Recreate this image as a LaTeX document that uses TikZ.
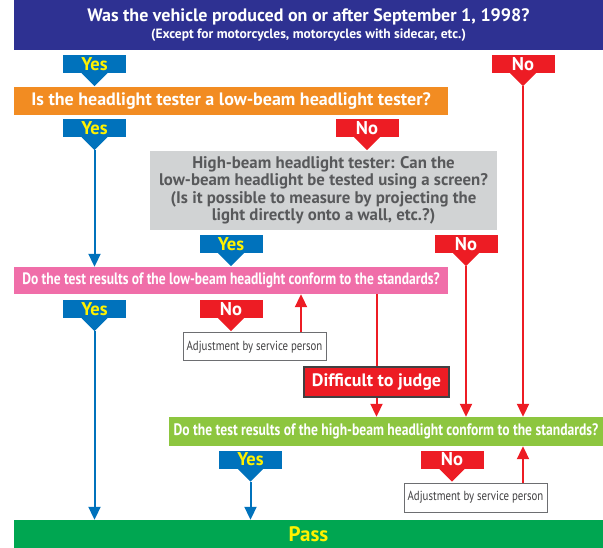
\documentclass[tikz,border=0pt]{standalone}
\usepackage{fontspec}
\setmainfont{PT Sans}
\newfontfamily\condfont[FakeStretch=0.82]{PT Sans}
\usetikzlibrary{arrows.meta}
\definecolor{navy}{HTML}{2E3192}
\definecolor{cblue}{HTML}{0072BC}
\definecolor{cred}{HTML}{ED1C24}
\definecolor{corange}{HTML}{F28C22}
\definecolor{cpink}{HTML}{F06EA9}
\definecolor{cgray}{HTML}{D1D3D4}
\definecolor{clgreen}{HTML}{8DC63F}
\definecolor{cgreen}{HTML}{00A651}
\definecolor{ctext}{HTML}{58595B}
\definecolor{cborder}{HTML}{6D6E71}
\definecolor{cdark}{HTML}{414042}
\definecolor{cyellow}{HTML}{FFF200}
\tikzset{
  box/.style={rectangle, inner sep=0pt, anchor=center, align=center},
  yestag/.style={rectangle, inner sep=0pt, fill=cblue, minimum width=63pt, minimum height=18pt,
    text=cyellow, font=\bfseries\fontsize{18.5}{19}\selectfont},
  notag/.style={rectangle, inner sep=0pt, fill=cred, minimum width=63pt, minimum height=18pt,
    text=white, font=\bfseries\fontsize{18.5}{19}\selectfont},
  yestagfill/.style={fill=cblue},
  notagfill/.style={fill=cred},
  arr/.style={-{Triangle[length=13pt,width=12pt]}},
  blueline/.style={draw=cblue, line width=2pt},
  redline/.style={draw=cred, line width=2pt},
  adjbox/.style={box, fill=white, draw=cborder, line width=1pt, text=cdark,
    font=\condfont\fontsize{13.2}{15}\selectfont},
}
\newcommand\tagbox[5]{%
  \node[#5tag] (#1) at (#2,#3) {#4};
  \fill[#5tagfill] ([xshift=-13pt]#1.south) -- ([xshift=13pt]#1.south) -- ([yshift=-13pt]#1.south) -- cycle;
  \coordinate (#1t) at ([yshift=-13pt]#1.south);
}
\begin{document}
\begin{tikzpicture}[x=1pt,y=-1pt]
\useasboundingbox (0,0) rectangle (603,548);
% boxes
\node[box, fill=navy, minimum width=589pt, minimum height=50pt, text=white] (title) at (308.5,25)
  {{\bfseries\fontsize{18}{20}\selectfont Was the vehicle produced on or after September 1, 1998?}\\[3pt]
   {\bfseries\fontsize{13.5}{15}\selectfont (Except for motorcycles, motorcycles with sidecar, etc.)}};
\node[box, fill=corange, minimum width=434pt, minimum height=28pt, text=white,
  font=\bfseries\fontsize{18}{20}\selectfont] (q1) at (231,101)
  {Is the headlight tester a low-beam headlight tester?};
\node[box, fill=cgray, minimum width=347pt, minimum height=79pt, text=ctext,
  font=\bfseries\fontsize{16.8}{17.5}\selectfont] (q2) at (323.5,190.5)
  {High-beam headlight tester: Can the\\low-beam headlight be tested using a screen?\\(Is it possible to measure by projecting the\\light directly onto a wall, etc.?)};
\node[box, fill=cpink, minimum width=434pt, minimum height=27pt, text=white,
  font=\condfont\bfseries\fontsize{16.5}{18}\selectfont] (low) at (231,280.5)
  {Do the test results of the low-beam headlight conform to the standards?};
\node[adjbox, minimum width=143pt, minimum height=28pt] (adj1) at (254.5,347) {Adjustment by service person};
\node[box, fill=cred, draw=cdark, line width=2pt, minimum width=145pt, minimum height=30pt, text=white,
  font=\bfseries\fontsize{18}{20}\selectfont] (diff) at (376.5,382) {Difficult to judge};
\node[box, fill=clgreen, minimum width=434pt, minimum height=29pt, text=white,
  font=\condfont\bfseries\fontsize{16.6}{18}\selectfont] (high) at (386,431.5)
  {Do the test results of the high-beam headlight conform to the standards?};
\node[adjbox, minimum width=143pt, minimum height=29pt] (adj2) at (475.5,497.5) {Adjustment by service person};
\node[box, fill=cgreen, minimum width=589pt, minimum height=28pt, text=cyellow,
  font=\bfseries\fontsize{21}{22}\selectfont] (pass) at (308.5,534) {Pass};
% tags
\tagbox{yA}{94.5}{64}{Yes}{yes}
\tagbox{nA}{523}{64}{No}{no}
\tagbox{yB}{94.5}{128}{Yes}{yes}
\tagbox{nB}{367}{128}{No}{no}
\tagbox{yC}{231}{244}{Yes}{yes}
\tagbox{nC}{466}{244}{No}{no}
\tagbox{yD}{94.5}{309}{Yes}{yes}
\tagbox{nD}{231}{309}{No}{no}
\tagbox{yE}{250.5}{459.5}{Yes}{yes}
\tagbox{nE}{452}{459.5}{No}{no}
% connectors
\draw[redline, arr] (nAt) -- (nAt |- high.north);
\draw[blueline, arr] (yBt) -- (yBt |- low.north);
\draw[redline, arr] (nCt) -- (nCt |- high.north);
\draw[blueline, arr] (yDt) -- (yDt |- pass.north);
\coordinate (a1) at ([xshift=46.5pt]adj1.north);
\draw[redline, arr] (a1) -- (a1 |- low.south);
\draw[redline] (diff.north |- low.south) -- (diff.north);
\draw[redline, arr] (diff.south) -- (diff.south |- high.north);
\draw[blueline, arr] (yEt) -- (yEt |- pass.north);
\draw[redline, arr] (nAt |- adj2.north) -- (nAt |- high.south);
\end{tikzpicture}
\end{document}
